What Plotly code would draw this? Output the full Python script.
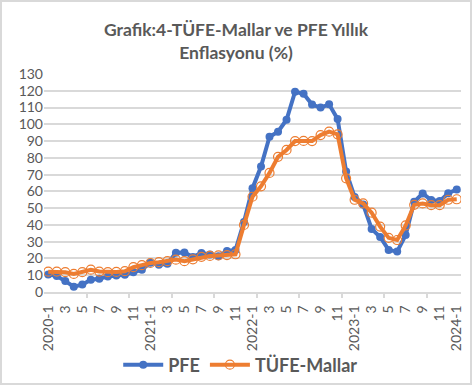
import plotly.graph_objects as go

# Data
pfe = [10.5, 9.5, 6.5, 3.2, 4.4, 7.3, 7.9, 9.3, 9.8, 10.3, 11.8, 13.3,
       17.5, 16.3, 16.8, 23.4, 23.6, 20.8, 23.3, 22.3, 21.3, 24.5, 25.0, 41.8,
       61.9, 74.8, 92.6, 95.6, 102.7, 119.4, 118.2, 111.8, 110.0, 111.9, 103.2, 71.8,
       56.7, 52.2, 37.6, 32.8, 25.1, 24.1, 34.0, 53.8, 58.8, 54.8, 54.2, 58.9,
       61.1]
tufe_mallar = [12.1, 12.2, 11.8, 10.8, 11.8, 13.3, 12.2, 11.8, 12.0, 12.4, 14.8, 16.0,
               17.3, 17.8, 18.4, 19.3, 18.4, 19.5, 21.0, 21.5, 21.8, 22.0, 22.5, 40.0,
               56.8, 63.0, 71.0, 80.6, 84.7, 90.0, 90.1, 90.0, 93.6, 95.6, 94.0, 67.8,
               55.0, 52.8, 47.3, 39.0, 32.3, 31.0, 39.7, 52.0, 52.8, 51.8, 51.8, 55.0,
               55.3]
periods = [f"{2020 + i // 12}-{i % 12 + 1}" for i in range(49)]
tick_labels = [p if p.endswith("-1") and len(p) == 6 else p.split("-")[1] for p in periods]
y_ticks = list(range(0, 131, 10))

idx = list(range(len(periods)))
label_idx = idx[::2]
label_text = [tick_labels[i] for i in label_idx]
minor_ticks = [i + 4.5 for i in range(0, 45, 5)]

BLUE = "#4472C4"
ORANGE = "#ED7D31"
GREY = "#595959"
GRID = "#D9D9D9"
FONT = "Lato"

fig = go.Figure()
fig.add_trace(go.Scatter(
    x=idx, y=pfe, name="PFE", mode="lines+markers",
    line=dict(color=BLUE, width=4),
    marker=dict(color=BLUE, size=8, symbol="circle"),
    hovertext=periods,
))
fig.add_trace(go.Scatter(
    x=idx, y=tufe_mallar, name="TÜFE-Mallar", mode="lines+markers",
    line=dict(color=ORANGE, width=4),
    marker=dict(color=ORANGE, size=9, symbol="circle-open", line=dict(width=1.2, color=ORANGE)),
    hovertext=periods,
))
# invisible trace to carry the tick-mark axis
fig.add_trace(go.Scatter(x=idx, y=pfe, xaxis="x2", mode="lines",
                         line=dict(width=0), opacity=0, showlegend=False, hoverinfo="skip"))

W, H = 472, 385
L, R, T, B = 44, 11, 74, 93
pw, ph = W - L - R, H - T - B

fig.update_layout(
    width=W, height=H,
    margin=dict(l=L, r=R, t=T, b=B, autoexpand=False),
    paper_bgcolor="white", plot_bgcolor="white",
    font=dict(family=FONT, color=GREY),
    title=dict(
        text="<b>Grafik:4-TÜFE-Mallar ve PFE Yıllık<br>Enflasyonu (%)</b>",
        x=0.5, xanchor="center", xref="container",
        y=1 - 36 / H, yanchor="top", yref="container",
        font=dict(family=FONT, size=17.5, color=GREY),
    ),
    xaxis=dict(
        range=[-0.5, 48.5], tickmode="array", tickvals=label_idx, ticktext=label_text,
        tickangle=-90, ticks="", showgrid=False, zeroline=False,
        showline=True, linecolor=GRID, linewidth=1.5, automargin=False,
        ticklabelstandoff=6,
        tickfont=dict(family=FONT, size=14, color=GREY),
    ),
    xaxis2=dict(
        range=[-0.5, 48.5], overlaying="x", side="bottom", anchor="y",
        tickmode="array", tickvals=minor_ticks, showticklabels=False,
        ticks="outside", ticklen=5, tickcolor=GRID, tickwidth=1.5,
        showgrid=False, zeroline=False, showline=False, automargin=False,
    ),
    yaxis=dict(
        range=[0, 130], tickmode="array", tickvals=y_ticks,
        showgrid=True, gridcolor=GRID, gridwidth=1.5, zeroline=False,
        showline=False, ticks="", automargin=False,
        tickfont=dict(family=FONT, size=14, color=GREY),
    ),
    legend=dict(
        orientation="h", x=0.51, xanchor="center", xref="container",
        y=(H - 365) / H, yanchor="middle", yref="container",
        font=dict(family=FONT, size=18, color=GREY, weight="bold"),
        bgcolor="rgba(0,0,0,0)", itemwidth=40,
    ),
    showlegend=True,
    shapes=[dict(
        type="rect", xref="paper", yref="paper",
        x0=(-L + 1) / pw, x1=(pw + R - 1) / pw,
        y0=(-B + 1) / ph, y1=(ph + T - 1) / ph,
        line=dict(color=GRID, width=2), layer="above",
    )],
)

fig.write_html(
    "out.html",
    config={"displayModeBar": False},
    post_script="document.body.style.margin='0';document.body.style.overflow='hidden';",
)
